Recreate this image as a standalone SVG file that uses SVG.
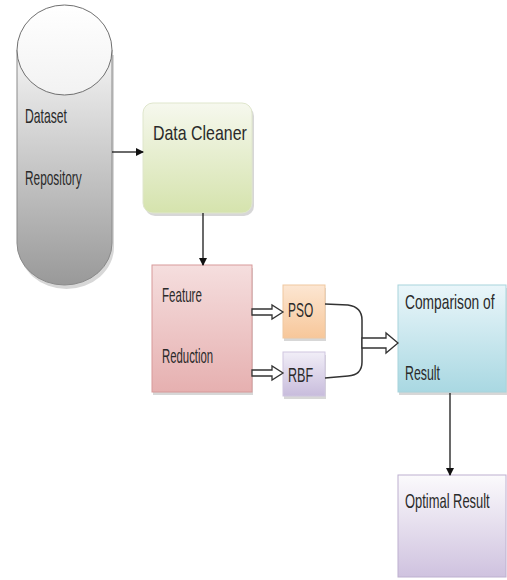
<svg xmlns="http://www.w3.org/2000/svg" width="507" height="580" viewBox="0 0 507 580">
<style>
text{font-family:"Liberation Sans",Arial,sans-serif;font-size:20px;fill:#2a2a2a;}
.ln{stroke:#1a1a1a;stroke-width:1.3;fill:none;}
.blk{fill:#ffffff;stroke:#333333;stroke-width:1.3;}
.cv{stroke:#333333;stroke-width:1.5;fill:none;}
.sh{fill:#b0b0b0;opacity:0.5;}
</style>
<defs>
<linearGradient id="gCyl" x1="0" y1="0" x2="0" y2="1"><stop offset="0" stop-color="#f4f4f4"/><stop offset="1" stop-color="#999999"/></linearGradient>
<linearGradient id="gTop" x1="0" y1="0" x2="0" y2="1"><stop offset="0" stop-color="#ffffff"/><stop offset="1" stop-color="#f2f2f2"/></linearGradient>
<linearGradient id="gGreen" x1="0" y1="0" x2="0" y2="1"><stop offset="0" stop-color="#f6f8ee"/><stop offset="1" stop-color="#d5e3ad"/></linearGradient>
<linearGradient id="gPink" x1="0" y1="0" x2="0" y2="1"><stop offset="0" stop-color="#f5dede"/><stop offset="1" stop-color="#e6b0b0"/></linearGradient>
<linearGradient id="gOrange" x1="0" y1="0" x2="0" y2="1"><stop offset="0" stop-color="#fce6d2"/><stop offset="1" stop-color="#f7c79a"/></linearGradient>
<linearGradient id="gPurple" x1="0" y1="0" x2="0" y2="1"><stop offset="0" stop-color="#f1eef7"/><stop offset="1" stop-color="#c8bcdc"/></linearGradient>
<linearGradient id="gCyan" x1="0" y1="0" x2="0" y2="1"><stop offset="0" stop-color="#eaf6fa"/><stop offset="1" stop-color="#a9d8e2"/></linearGradient>
<linearGradient id="gLav" x1="0" y1="0" x2="0" y2="1"><stop offset="0" stop-color="#fbfafc"/><stop offset="1" stop-color="#cfc2df"/></linearGradient>
<marker id="ah" markerWidth="8" markerHeight="8" refX="7" refY="4" orient="auto" markerUnits="userSpaceOnUse"><path d="M0,0 L8,4 L0,8 Z" fill="#111111"/></marker>
</defs>

<g id="dataset-repository">
<path d="M19,55 L19,247 A47.5,42 0 0 0 114,247 L114,55 Z" class="sh"/>
<path d="M17,50 L17,243 A47.5,42 0 0 0 112,243 L112,50 Z" fill="url(#gCyl)" stroke="#8a8a8a" stroke-width="1"/>
<ellipse cx="64.5" cy="50" rx="47.5" ry="45" fill="url(#gTop)" stroke="#707070" stroke-width="1"/>
<text transform="translate(25,123) scale(0.7,1)" textLength="60" lengthAdjust="spacingAndGlyphs">Dataset</text>
<text transform="translate(25,185) scale(0.7,1)" textLength="81" lengthAdjust="spacingAndGlyphs">Repository</text>
</g>

<g id="data-cleaner">
<rect x="145" y="106" width="109" height="110" rx="10" class="sh"/>
<rect x="143" y="103" width="109" height="110" rx="10" fill="url(#gGreen)" stroke="#dfe6cc" stroke-width="1"/>
<text transform="translate(153,140) scale(0.7,1)" textLength="134" lengthAdjust="spacingAndGlyphs">Data Cleaner</text>
</g>

<g id="feature-reduction">
<rect x="153" y="268" width="100" height="127" class="sh"/>
<rect x="152" y="265" width="100" height="127" fill="url(#gPink)" stroke="#d79a9a" stroke-width="1"/>
<text transform="translate(162,302) scale(0.7,1)" textLength="57" lengthAdjust="spacingAndGlyphs">Feature</text>
<text transform="translate(162,363) scale(0.7,1)" textLength="73" lengthAdjust="spacingAndGlyphs">Reduction</text>
</g>

<g id="pso">
<rect x="284" y="288" width="42" height="53" class="sh"/>
<rect x="283" y="285" width="42" height="53" fill="url(#gOrange)" stroke="#f0c8a0" stroke-width="1"/>
<text transform="translate(288,317) scale(0.7,1)" textLength="36" lengthAdjust="spacingAndGlyphs">PSO</text>
</g>

<g id="rbf">
<rect x="284" y="355" width="42" height="44" class="sh"/>
<rect x="283" y="352" width="42" height="44" fill="url(#gPurple)" stroke="#cfc6e0" stroke-width="1"/>
<text transform="translate(288,382) scale(0.7,1)" textLength="36" lengthAdjust="spacingAndGlyphs">RBF</text>
</g>

<g id="comparison-of-result">
<rect x="399" y="288" width="108" height="107" class="sh"/>
<rect x="398" y="285" width="108" height="107" fill="url(#gCyan)" stroke="#a8d4dc" stroke-width="1"/>
<text transform="translate(405,309) scale(0.7,1)" textLength="128" lengthAdjust="spacingAndGlyphs">Comparison of</text>
<text transform="translate(405,380) scale(0.7,1)" textLength="50" lengthAdjust="spacingAndGlyphs">Result</text>
</g>

<g id="optimal-result">
<rect x="398" y="475" width="108" height="102" fill="url(#gLav)" stroke="#bdb0cf" stroke-width="1"/>
<text transform="translate(405,508) scale(0.7,1)" textLength="121" lengthAdjust="spacingAndGlyphs">Optimal Result</text>
</g>

<g id="connectors">
<line x1="112" y1="152" x2="143" y2="152" class="ln" marker-end="url(#ah)"/>
<line x1="203" y1="213" x2="203" y2="265" class="ln" marker-end="url(#ah)"/>
<line x1="450" y1="393" x2="450" y2="475" class="ln" marker-end="url(#ah)"/>
<polygon points="252,309 272,309 272,305 283,312 272,319 272,315 252,315" class="blk"/>
<polygon points="252,370 272,370 272,366 283,373 272,380 272,376 252,376" class="blk"/>
<path d="M325,304 L348,305 Q362,307 362,320 L362,362 Q362,375 348,376 L325,378" class="cv"/>
<polygon points="362,338 386,338 386,333 398,343 386,353 386,348 362,348" class="blk"/>
</g>
</svg>
